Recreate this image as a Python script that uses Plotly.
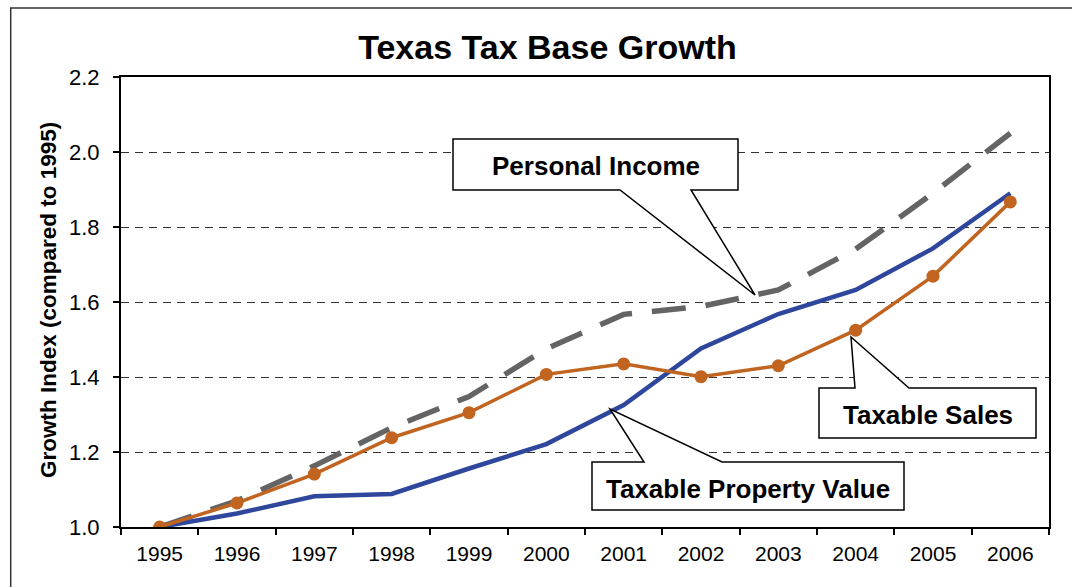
import plotly.graph_objects as go

years = ["1995", "1996", "1997", "1998", "1999", "2000",
         "2001", "2002", "2003", "2004", "2005", "2006"]
personal_income = [1.00, 1.07, 1.163, 1.265, 1.348, 1.475, 1.567, 1.588, 1.632, 1.741, 1.89, 2.05]
taxable_property = [1.00, 1.036, 1.082, 1.088, 1.156, 1.221, 1.325, 1.476, 1.568, 1.632, 1.743, 1.89]
taxable_sales = [1.00, 1.064, 1.141, 1.238, 1.305, 1.407, 1.435, 1.401, 1.430, 1.525, 1.669, 1.867]
y_ticks = [1.0, 1.2, 1.4, 1.6, 1.8, 2.0, 2.2]

FONT = "Arial, Liberation Sans, sans-serif"
W, H = 1072, 587
L, R, T, B = 121, 1049, 77, 527


def px(x):
    return (x - L) / (R - L)


def py(y):
    return (B - y) / (B - T)


def path(points):
    s = "M " + " L ".join(f"{px(x):.5f},{py(y):.5f}" for x, y in points) + " Z"
    return s


fig = go.Figure()
fig.add_trace(go.Scatter(x=years, y=personal_income, mode="lines", name="Personal Income",
                         line=dict(color="#646464", width=5.5, dash="34px,20px")))
fig.add_trace(go.Scatter(x=years, y=taxable_property, mode="lines", name="Taxable Property Value",
                         line=dict(color="#2E479C", width=4.5)))
fig.add_trace(go.Scatter(x=years, y=taxable_sales, mode="lines+markers", name="Taxable Sales",
                         line=dict(color="#C06420", width=3.5),
                         marker=dict(color="#C06420", size=13)))

shapes = []
# outer frame
shapes.append(dict(type="rect", xref="paper", yref="paper",
                   x0=px(10.7), x1=px(1090), y0=py(8), y1=py(600),
                   line=dict(color="#333333", width=1.5), fillcolor="rgba(0,0,0,0)", layer="below"))
# callouts
callouts = [
    [(453, 139), (738, 139), (738, 190), (691, 190), (755, 295), (620, 190), (453, 190)],
    [(819, 388), (855, 388), (851, 337), (909, 388), (1036, 388), (1036, 438), (819, 438)],
    [(592, 462), (644, 462), (610, 409), (722, 462), (904, 462), (904, 510), (592, 510)],
]
for pts in callouts:
    shapes.append(dict(type="path", xref="paper", yref="paper", path=path(pts),
                       fillcolor="white", line=dict(color="black", width=1.5), layer="above"))

CF = 26
annotations = [
    dict(text="<b>Personal Income</b>", x=px(596), y=py(166), xref="paper", yref="paper",
         showarrow=False, font=dict(family=FONT, size=CF, color="black"), xanchor="center", yanchor="middle"),
    dict(text="<b>Taxable Sales</b>", x=px(928), y=py(415), xref="paper", yref="paper",
         showarrow=False, font=dict(family=FONT, size=CF, color="black"), xanchor="center", yanchor="middle"),
    dict(text="<b>Taxable Property Value</b>", x=px(748), y=py(489), xref="paper", yref="paper",
         showarrow=False, font=dict(family=FONT, size=CF, color="black"), xanchor="center", yanchor="middle"),
    dict(text="<b>Growth Index (compared to 1995)</b>", x=px(48), y=py(300), xref="paper", yref="paper",
         showarrow=False, textangle=-90, font=dict(family=FONT, size=22.5, color="black"),
         xanchor="center", yanchor="middle"),
]

fig.update_layout(
    width=W, height=H,
    margin=dict(l=L, r=W - R, t=T, b=H - B),
    paper_bgcolor="white", plot_bgcolor="white",
    showlegend=False,
    title=dict(text="<b>Texas Tax Base Growth</b>", x=547.5 / W, xanchor="center",
               y=1 - 47 / H, yanchor="middle", font=dict(family=FONT, size=34, color="black")),
    font=dict(family=FONT, color="black"),
    shapes=shapes,
    annotations=annotations,
    xaxis=dict(type="category", range=[-0.5, len(years) - 0.5], autorange=False,
               showline=True, linecolor="black", linewidth=2, mirror=True,
               ticks="outside", ticklen=6, tickwidth=1.5, tickcolor="black", tickson="boundaries",
               showgrid=False, tickfont=dict(family=FONT, size=21, color="black"),
               ticklabelstandoff=7),
    yaxis=dict(range=[1.0, 2.2], tickvals=y_ticks, ticktext=[f"{v:.1f}" for v in y_ticks],
               showline=True, linecolor="black", linewidth=2, mirror=True,
               ticks="outside", ticklen=6, tickwidth=1.5, tickcolor="black",
               showgrid=True, gridcolor="#333333", gridwidth=1, griddash="8px,6px",
               zeroline=False, tickfont=dict(family=FONT, size=22, color="black"),
               ticklabelstandoff=9),
)

fig.write_html("out.html")
